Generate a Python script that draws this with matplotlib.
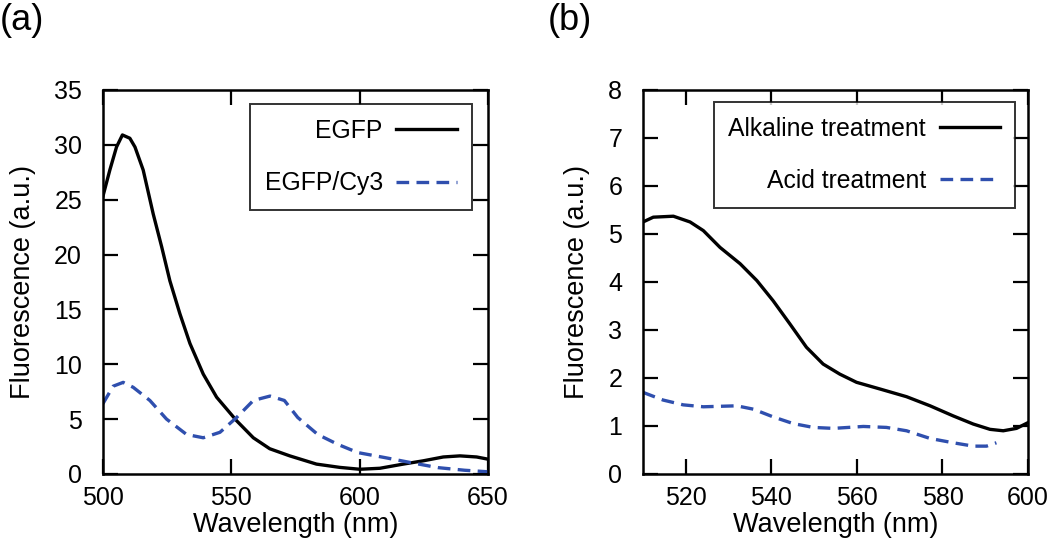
import numpy as np
import matplotlib.pyplot as plt

plt.rcParams['font.family'] = ['Liberation Sans', 'DejaVu Sans']

# panel (a)
wl_egfp = [500, 502.7, 505.3, 507.6, 510.5, 512.5, 515.7, 519.6, 522.9, 526.1, 530,
           533.9, 539.1, 544.3, 552.1, 558.6, 565, 572.8, 583.2, 592.3, 600.1, 607.9,
           617, 624.8, 632.6, 639.1, 645.6, 650]
egfp = [25.3, 27.7, 29.8, 30.9, 30.6, 29.8, 27.7, 23.7, 20.7, 17.6, 14.6,
        11.9, 9.1, 7.0, 4.85, 3.3, 2.3, 1.65, 0.9, 0.6, 0.43, 0.52,
        0.9, 1.2, 1.55, 1.65, 1.55, 1.35]

wl_cy3 = [500, 504, 507.9, 511.8, 518.3, 524.8, 532.6, 539.1, 545.6, 552.1, 558.6, 565.1,
          570.7, 575.9, 583.7, 591.5, 599.3, 609.7, 620.1, 630.5, 640.9, 650]
egfp_cy3 = [6.4, 8.0, 8.35, 7.9, 6.7, 5.0, 3.6, 3.3, 3.8, 5.15, 6.7, 7.1,
            6.7, 5.15, 3.6, 2.7, 1.95, 1.5, 1.03, 0.58, 0.34, 0.2]

# panel (b)
wl_alk = [510, 512.4, 517.1, 521, 524.1, 528, 532.7, 536.6, 540.4, 544.3, 548.2, 552.1,
          556, 559.9, 565.4, 571.6, 577.1, 582.5, 587.2, 591.1, 594.2, 597.3, 600]
alkaline = [5.25, 5.35, 5.37, 5.25, 5.07, 4.72, 4.38, 4.03, 3.61, 3.13, 2.64, 2.29,
            2.08, 1.91, 1.77, 1.61, 1.42, 1.21, 1.04, 0.93, 0.90, 0.95, 1.07]

wl_acid = [510, 514.7, 519.4, 524.1, 531.9, 535.8, 540.4, 545.1, 549.8, 554.5, 561.5,
           566.9, 571.6, 577.1, 582.5, 587.2, 590.3, 592.6]
acid = [1.70, 1.54, 1.44, 1.40, 1.42, 1.35, 1.19, 1.05, 0.97, 0.95, 0.99,
        0.97, 0.90, 0.74, 0.65, 0.58, 0.58, 0.65]

blue = '#2f4fae'
fs_tick = 18
fs_lab = 19.5
fs_leg = 17.8
dash = (0, (3.8, 2.2))

fig = plt.figure(figsize=(10.5, 5.42), dpi=100)
axa = fig.add_axes([0.098, 0.1255, 0.3667, 0.7085])
axb = fig.add_axes([0.6124, 0.1255, 0.3667, 0.7085])

def style(ax):
  for s in ax.spines.values():
    s.set_linewidth(1.8)
  ax.tick_params(direction='in', length=11, width=1.6, top=True, right=True,
                 labelsize=fs_tick)
  ax.tick_params(axis='x', pad=9)
  ax.tick_params(axis='y', pad=15)
  ax.set_xlabel('Wavelength (nm)', fontsize=fs_lab, labelpad=1)
  ax.set_ylabel('Fluorescence (a.u.)', fontsize=fs_lab, labelpad=13)

def add_legend(ax, anchor):
  leg = ax.legend(loc='upper right', fontsize=fs_leg, markerfirst=False, frameon=True,
                  fancybox=False, edgecolor='black', handlelength=2.45,
                  handletextpad=0.55, borderpad=0.6, labelspacing=1.15,
                  borderaxespad=0, bbox_to_anchor=anchor)
  leg.get_frame().set_linewidth(1.4)

axa.plot(wl_egfp, egfp, color='black', lw=2.4, label='EGFP')
axa.plot(wl_cy3, egfp_cy3, color=blue, lw=2.4, ls=dash, label='EGFP/Cy3')
axa.set_xlim(500, 650)
axa.set_ylim(0, 35)
axa.set_xticks([500, 550, 600, 650])
axa.set_yticks(np.arange(0, 36, 5))
style(axa)
add_legend(axa, (0.958, 0.963))

axb.plot(wl_alk, alkaline, color='black', lw=2.4, label='Alkaline treatment')
axb.plot(wl_acid, acid, color=blue, lw=2.4, ls=dash, label='Acid treatment')
axb.set_xlim(510, 600)
axb.set_ylim(0, 8)
axb.set_xticks([520, 540, 560, 580, 600])
axb.set_yticks(np.arange(0, 9, 1))
style(axb)
add_legend(axb, (0.966, 0.969))

fig.text(0.0, 0.995, '(a)', fontsize=26, va='top', ha='left')
fig.text(0.522, 0.995, '(b)', fontsize=26, va='top', ha='left')

plt.savefig('out.png', dpi=100)
